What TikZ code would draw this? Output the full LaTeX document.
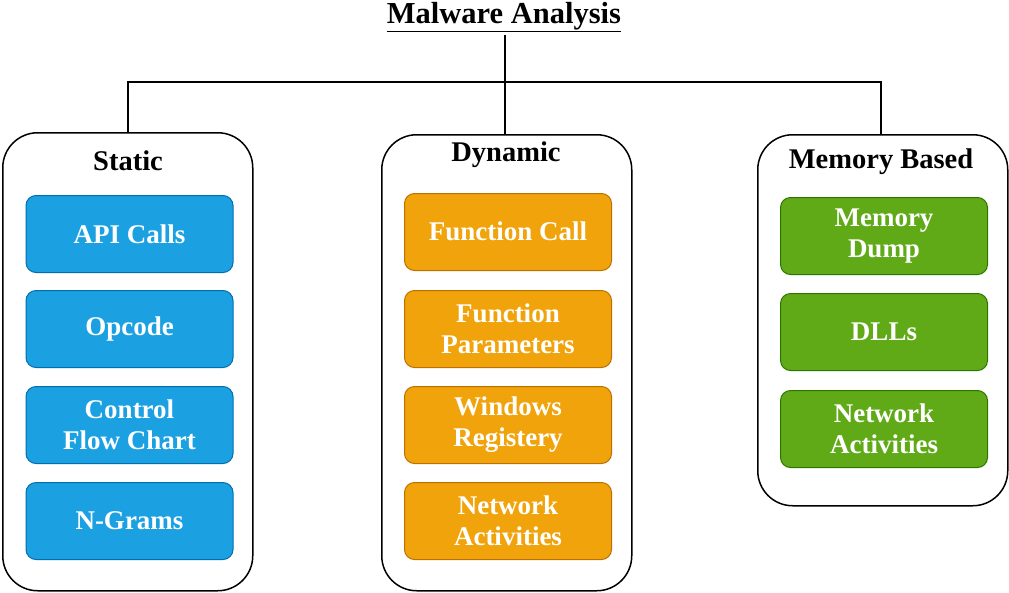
\documentclass[tikz,border=0pt]{standalone}
\usepackage{fontspec}
\setmainfont{Liberation Serif}
\begin{document}
\begin{tikzpicture}[x=1pt,y=-1pt,
  group/.style={draw=black,line width=1.5pt,rounded corners=35pt,fill=white,
    minimum width=250pt,anchor=north west,inner sep=0pt},
  head/.style={font=\fontsize{28.5}{32}\selectfont\bfseries,inner sep=0pt},
  item/.style={rounded corners=10pt,line width=1pt,minimum width=207pt,minimum height=77pt,
    anchor=north,text=white,align=center,inner sep=0pt,
    font=\fontsize{27}{31}\selectfont\bfseries},
  bluebox/.style={item,fill=staticfill,draw=staticline},
  orangebox/.style={item,fill=dynfill,draw=dynline},
  greenbox/.style={item,fill=memfill,draw=memline},
  link/.style={line width=1.5pt,draw=black}
]
\definecolor{staticfill}{HTML}{1BA1E2}
\definecolor{staticline}{HTML}{006EAF}
\definecolor{dynfill}{HTML}{F0A30A}
\definecolor{dynline}{HTML}{BD7000}
\definecolor{memfill}{HTML}{60A917}
\definecolor{memline}{HTML}{2D7600}

\useasboundingbox (0,0) rectangle (1009,592);

% title
\node[font=\fontsize{30.5}{34}\selectfont\bfseries,inner sep=0pt] (title) at (504,17) {\underline{Malware Analysis}};

% three category panels
\node[group,minimum height=458pt] (static) at (2,132) {};
\node[group,minimum height=456pt] (dyn) at (381,134) {};
\node[group,minimum height=371pt] (mem) at (757,134) {};

\node[head] (statich) at (128,161) {Static};
\node[head] (dynh) at (506,155) {Dynamic};
\node[head] (memh) at (881,162) {Memory Based};

% static features
\node[bluebox] (s1) at (129.5,195) {\raisebox{-2pt}{API Calls}};
\node[bluebox] (s2) at (129.5,290) {\raisebox{-2pt}{Opcode}};
\node[bluebox] (s3) at (129.5,386) {Control\\Flow Chart};
\node[bluebox] (s4) at (129.5,482) {\raisebox{-2pt}{N-Grams}};

% dynamic features
\node[orangebox] (d1) at (508,193) {\raisebox{2pt}{Function Call}};
\node[orangebox] (d2) at (508,290) {Function\\Parameters};
\node[orangebox] (d3) at (508,386) {Windows\\Registery};
\node[orangebox] (d4) at (508,482) {Network\\Activities};

% memory based features
\node[greenbox] (m1) at (884,197) {Memory\\Dump};
\node[greenbox] (m2) at (884,293) {DLLs};
\node[greenbox] (m3) at (884,390) {Network\\Activities};

% tree connectors
\draw[link] (title.south) ++(1,3) coordinate (tstem) -- (tstem |- dyn.north);
\draw[link] (static.north) -- ++(0,-50) coordinate (bus) -| ([xshift=-2pt]mem.north);
\end{tikzpicture}
\end{document}
